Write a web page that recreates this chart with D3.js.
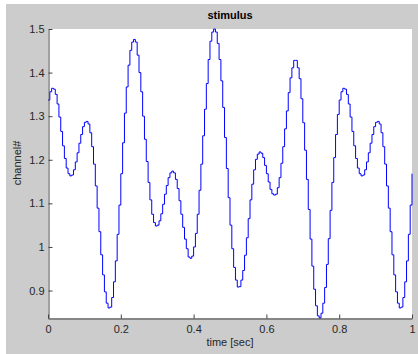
<!DOCTYPE html>
<html>
<head>
<meta charset="utf-8">
<script src="https://cdn.jsdelivr.net/npm/d3@7"></script>
<style>
  body { margin: 0; background: #fff; }
  text { font-family: "Liberation Sans", Arial, sans-serif; }
</style>
</head>
<body>
<div id="chart"></div>
<script>
// samples of the stimulus, 200 Hz over 1 s (stairs plot)
var sampleRate = 200;
var stimulus = [
  1.337, 1.356, 1.364, 1.362, 1.350, 1.328, 1.298, 1.265, 1.232, 1.203,
  1.181, 1.168, 1.163, 1.165, 1.177, 1.195, 1.216, 1.238, 1.258, 1.276,
  1.286, 1.288, 1.282, 1.262, 1.230, 1.190, 1.140, 1.089, 1.035, 0.982,
  0.936, 0.897, 0.871, 0.860, 0.862, 0.884, 0.920, 0.968, 1.029, 1.096,
  1.168, 1.239, 1.307, 1.367, 1.417, 1.451, 1.470, 1.476, 1.470, 1.440,
  1.400, 1.356, 1.300, 1.247, 1.196, 1.148, 1.108, 1.075, 1.056, 1.048,
  1.050, 1.060, 1.076, 1.098, 1.121, 1.141, 1.159, 1.170, 1.174, 1.170,
  1.155, 1.134, 1.106, 1.075, 1.045, 1.018, 0.996, 0.977, 0.974, 0.979,
  1.000, 1.031, 1.075, 1.130, 1.190, 1.255, 1.316, 1.375, 1.430, 1.472,
  1.493, 1.500, 1.493, 1.467, 1.430, 1.381, 1.320, 1.251, 1.180, 1.113,
  1.050, 0.996, 0.953, 0.924, 0.908, 0.909, 0.924, 0.946, 0.981, 1.021,
  1.065, 1.108, 1.144, 1.177, 1.201, 1.213, 1.218, 1.215, 1.205, 1.187,
  1.168, 1.149, 1.132, 1.122, 1.119, 1.121, 1.136, 1.159, 1.192, 1.230,
  1.271, 1.312, 1.354, 1.388, 1.411, 1.428, 1.428, 1.411, 1.386, 1.340,
  1.285, 1.222, 1.155, 1.086, 1.018, 0.956, 0.903, 0.865, 0.842, 0.837,
  0.848, 0.871, 0.907, 0.960, 1.019, 1.084, 1.148, 1.205, 1.258, 1.304,
  1.337, 1.356, 1.364, 1.362, 1.350, 1.328, 1.298, 1.265, 1.232, 1.203,
  1.181, 1.168, 1.163, 1.165, 1.177, 1.195, 1.216, 1.238, 1.258, 1.276,
  1.286, 1.288, 1.282, 1.262, 1.230, 1.190, 1.140, 1.089, 1.035, 0.982,
  0.936, 0.897, 0.871, 0.860, 0.862, 0.884, 0.920, 0.968, 1.029, 1.096,
  1.168
];
var xTicks = [0, 0.2, 0.4, 0.6, 0.8, 1];
var yTicks = [0.9, 1, 1.1, 1.2, 1.3, 1.4, 1.5];

var width = 418, height = 354;
var margin = { top: 29, right: 6, bottom: 36, left: 48 };

var svg = d3.select("#chart").append("svg")
  .attr("width", width)
  .attr("height", height);

// figure background
svg.append("rect")
  .attr("x", 6).attr("y", 4)
  .attr("width", width - 6).attr("height", height - 4)
  .attr("fill", "#cccccc");

var data = stimulus.map(function (v, i) { return { t: i / sampleRate, v: v }; });

var x = d3.scaleLinear([0, 1], [margin.left, width - margin.right]);
var y = d3.scaleLinear(d3.extent(stimulus), [height - margin.bottom, margin.top]);

svg.append("rect")
  .attr("x", margin.left).attr("y", margin.top)
  .attr("width", width - margin.right - margin.left)
  .attr("height", height - margin.bottom - margin.top)
  .attr("fill", "#fff");

var line = d3.line()
  .curve(d3.curveStepAfter)
  .x(function (d) { return x(d.t); })
  .y(function (d) { return y(d.v); });

svg.append("path")
  .datum(data)
  .attr("fill", "none")
  .attr("stroke", "#0000ff")
  .attr("stroke-width", 1)
  .attr("d", line);

var fmt = function (d) { return d3.format("")(d); };

svg.append("g")
  .attr("transform", "translate(0," + (height - margin.bottom + 0.5) + ")")
  .call(d3.axisBottom(x).tickValues(xTicks).tickFormat(fmt).tickSizeInner(-4).tickSizeOuter(0).tickPadding(7))
  .call(function (g) {
    g.select(".domain").attr("stroke", "#404040");
    g.selectAll(".tick line").attr("stroke", "#404040");
    g.selectAll("text").attr("font-size", 11).attr("fill", "#262626")
      .attr("font-family", "'Liberation Sans', Arial, sans-serif");
  });

svg.append("g")
  .attr("transform", "translate(" + (margin.left + 0.5) + ",0)")
  .call(d3.axisLeft(y).tickValues(yTicks).tickFormat(fmt).tickSizeInner(-4).tickSizeOuter(0).tickPadding(4))
  .call(function (g) {
    g.select(".domain").attr("stroke", "#404040");
    g.selectAll(".tick line").attr("stroke", "#404040");
    g.selectAll("text").attr("font-size", 11).attr("fill", "#262626")
      .attr("font-family", "'Liberation Sans', Arial, sans-serif");
  });

svg.append("text")
  .attr("x", (margin.left + width - margin.right) / 2)
  .attr("y", 19)
  .attr("text-anchor", "middle")
  .attr("font-size", 11)
  .attr("font-weight", "bold")
  .attr("fill", "#000")
  .text("stimulus");

svg.append("text")
  .attr("x", (margin.left + width - margin.right) / 2)
  .attr("y", 346)
  .attr("text-anchor", "middle")
  .attr("font-size", 11)
  .attr("fill", "#262626")
  .text("time [sec]");

svg.append("text")
  .attr("transform", "translate(21,163) rotate(-90)")
  .attr("text-anchor", "middle")
  .attr("font-size", 11)
  .attr("fill", "#262626")
  .text("channel#");
</script>
</body>
</html>
